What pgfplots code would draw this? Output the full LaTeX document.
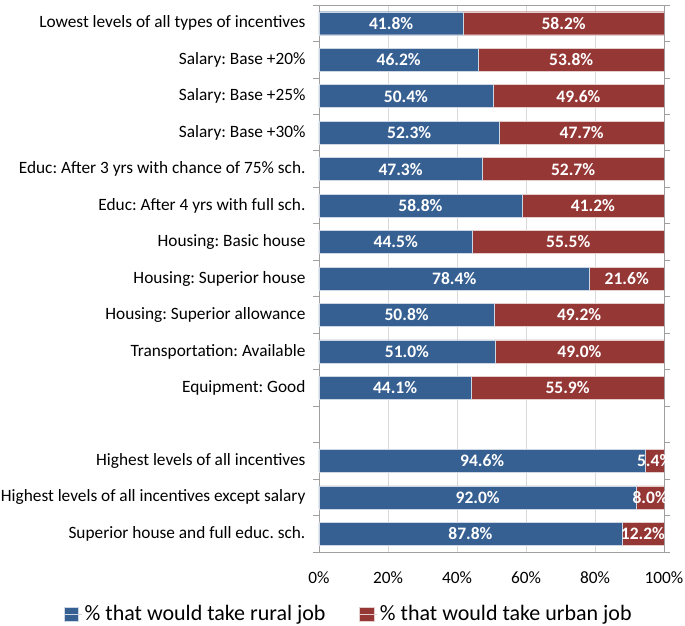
\documentclass[border=0pt]{standalone}
\usepackage{pgfplots}
\usepackage{pgfplotstable}
\pgfplotsset{compat=1.18}
\usepackage{fontspec}
\setmainfont{Carlito}
\frenchspacing
\definecolor{rural}{RGB}{55,96,146}
\definecolor{urban}{RGB}{149,55,53}
\pgfplotstableread{
y r u
14 41.8 58.2
13 46.2 53.8
12 50.4 49.6
11 52.3 47.7
10 47.3 52.7
9 58.8 41.2
8 44.5 55.5
7 78.4 21.6
6 50.8 49.2
5 51.0 49.0
4 44.1 55.9
2 94.6 5.4
1 92.0 8.0
0 87.8 12.2
}\datatable
\begin{document}
\begin{tikzpicture}
\pgfplotsset{common/.style={
  scale only axis, width=345pt, height=547pt,
  xmin=0, xmax=100, ymin=-0.5, ymax=14.5}}
\begin{axis}[common,
  xbar stacked, bar width=23pt,
  axis line style={gray!75, line width=0.8pt},
  xtick={0,20,...,100},
  xticklabel={\pgfmathprintnumber{\tick}\%},
  /pgf/number format/assume math mode=true,
  xmajorgrids, grid style={gray!30, line width=0.9pt},
  major tick length=0pt,
  ytick={0,...,14},
  yticklabels={Superior house and full educ. sch.,
    Highest levels of all incentives except salary,
    Highest levels of all incentives,
    {},
    Equipment: Good,
    Transportation: Available,
    Housing: Superior allowance,
    Housing: Superior house,
    Housing: Basic house,
    Educ: After 4 yrs with full sch.,
    Educ: After 3 yrs with chance of 75\% sch.,
    Salary: Base +30\%,
    Salary: Base +25\%,
    Salary: Base +20\%,
    Lowest levels of all types of incentives},
  minor ytick={-0.5,0.5,...,14.5},
  minor tick length=6pt,
  tick align=outside,
  minor tick style={gray!75, line width=0.8pt},
  yticklabel style={font=\fontsize{17.3}{20}\selectfont, xshift=-10pt},
  xticklabel style={font=\fontsize{17.3}{20}\selectfont, anchor=base, yshift=-31pt},
  legend style={draw=none, at={(0.087,-0.1134)}, anchor=center,
    legend columns=2, font=\fontsize{22}{25}\selectfont,
    nodes={inner sep=2.5pt},
    /tikz/every even column/.append style={column sep=31pt}},
  legend image code/.code={\fill[#1] (0pt,-7pt) rectangle (14.5pt,7pt); \path (0pt,0pt) -- (18pt,0pt);},
]
\addplot[fill=rural, draw=white!75!rural, line width=0.4pt] table[x=r, y=y] {\datatable};
\addplot[fill=urban, draw=white!75!urban, line width=0.4pt] table[x=u, y=y] {\datatable};
\legend{\% that would take rural job, \% that would take urban job}
\end{axis}
\begin{scope}
\clip (0pt,0pt) rectangle (345pt,547pt);
\begin{axis}[common, hide axis]
\addplot[only marks, mark=*, mark size=0pt, mark options={draw=none, fill=none},
  point meta=explicit symbolic,
  nodes near coords={\pgfplotspointmeta\%},
  every node near coord/.append style={anchor=center, text=white, font=\bfseries\fontsize{17.5}{20}\selectfont}]
  table[x expr=\thisrow{r}/2, y=y, meta=r] {\datatable};
\addplot[only marks, mark=*, mark size=0pt, mark options={draw=none, fill=none},
  point meta=explicit symbolic,
  nodes near coords={\pgfplotspointmeta\%},
  every node near coord/.append style={anchor=center, text=white, font=\bfseries\fontsize{17.5}{20}\selectfont}]
  table[x expr=\thisrow{r}+\thisrow{u}/2, y=y, meta=u] {\datatable};
\end{axis}
\end{scope}
\pgfresetboundingbox
\useasboundingbox (-319pt,-73pt) rectangle (366pt,552pt);
\end{tikzpicture}
\end{document}
